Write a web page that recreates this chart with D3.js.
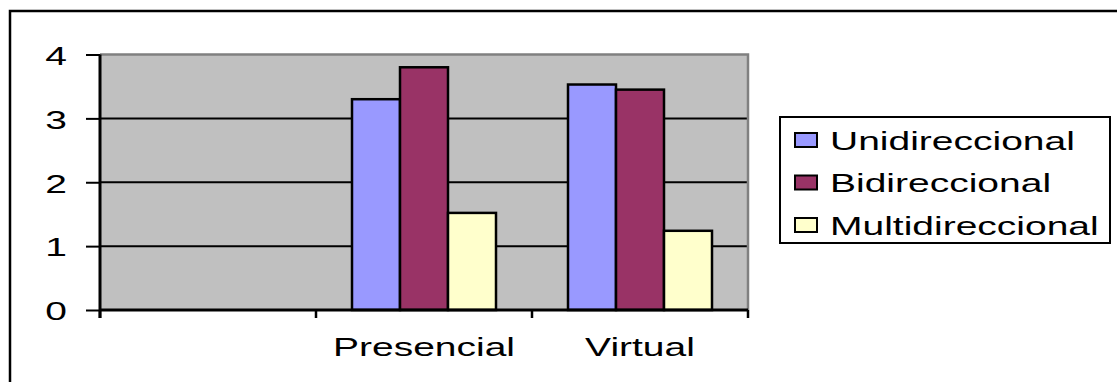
<!DOCTYPE html>
<meta charset="utf-8">
<style>
body { margin: 0; background: #fff; }
text { font-family: "Liberation Sans", Arial, sans-serif; fill: #000; }
</style>
<svg width="1117" height="382"></svg>
<script src="https://d3js.org/d3.v7.min.js"></script>
<script>

// data
var categories = ["", "Presencial", "Virtual"];
var seriesNames = ["Unidireccional", "Bidireccional", "Multidireccional"];
var unidireccional = [null, 3.30, 3.53];
var bidireccional = [null, 3.80, 3.45];
var multidireccional = [null, 1.52, 1.24];
var yTicks = [0, 1, 2, 3, 4];

var seriesValues = [unidireccional, bidireccional, multidireccional];
var colors = ["#9999FF", "#993366", "#FFFFCC"];

var svg = d3.select("svg");
var SX = 1.56; // text in the picture is stretched wide
var fontSize = 25;

var plot = {left: 100, right: 748, top: 54.5, bottom: 310};

// outer chart frame (runs off the right and bottom edge)
svg.append("rect")
    .attr("x", 10).attr("y", 11)
    .attr("width", 1200).attr("height", 500)
    .attr("fill", "none").attr("stroke", "#000").attr("stroke-width", 2.5);

var x = d3.scaleBand().domain(categories).range([plot.left, plot.right]);
var bw = x.bandwidth();
var gap = bw * 1.5 / 4.5;
var x1 = d3.scaleBand().domain(seriesNames).range([gap / 2, bw - gap / 2]);
var y = d3.scaleLinear().domain([0, 4]).range([plot.bottom, plot.top]);

// plot area
svg.append("rect")
    .attr("x", plot.left).attr("y", plot.top)
    .attr("width", plot.right - plot.left).attr("height", plot.bottom - plot.top)
    .attr("fill", "#C0C0C0");

// gridlines
svg.append("g").selectAll("line")
    .data(yTicks.filter(function(d) { return d > 0 && d < 4; }))
    .enter().append("line")
      .attr("x1", plot.left).attr("x2", plot.right)
      .attr("y1", function(d) { return y(d); })
      .attr("y2", function(d) { return y(d); })
      .attr("stroke", "#000").attr("stroke-width", 2);

// plot border top / right
svg.append("path")
    .attr("d", "M" + plot.left + "," + plot.top + "H" + plot.right + "V" + plot.bottom)
    .attr("fill", "none").attr("stroke", "#808080").attr("stroke-width", 2.5);

// bars
var bars = [];
seriesValues.forEach(function(vals, si) {
  vals.forEach(function(v, ci) {
    if (v == null) return;
    bars.push({cat: categories[ci], name: seriesNames[si], value: v, color: colors[si]});
  });
});

svg.append("g").selectAll("rect")
    .data(bars)
    .enter().append("rect")
      .attr("x", function(d) { return x(d.cat) + x1(d.name); })
      .attr("y", function(d) { return y(d.value); })
      .attr("width", x1.bandwidth())
      .attr("height", function(d) { return y(0) - y(d.value); })
      .attr("fill", function(d) { return d.color; })
      .attr("stroke", "#000").attr("stroke-width", 2.5);

// y axis
var yAxis = d3.axisLeft(y).tickValues(yTicks).tickSize(14).tickFormat(d3.format("d"));
var gy = svg.append("g")
    .attr("transform", "translate(" + plot.left + ",0)")
    .call(yAxis);
gy.select(".domain").remove();
gy.append("line")
    .attr("x1", 0).attr("x2", 0).attr("y1", plot.top).attr("y2", plot.bottom + 8)
    .attr("stroke", "#000").attr("stroke-width", 3);
gy.selectAll(".tick line").attr("stroke", "#000").attr("stroke-width", 2);
gy.selectAll(".tick text")
    .attr("x", null).attr("dy", null)
    .attr("text-anchor", "end")
    .attr("dominant-baseline", "central")
    .style("font-size", fontSize + "px")
    .attr("font-family", null)
    .attr("transform", "translate(-33,1) scale(" + SX + ",1)");

// x axis
var gx = svg.append("g")
    .attr("transform", "translate(0," + plot.bottom + ")");
gx.append("line")
    .attr("x1", plot.left).attr("x2", plot.right)
    .attr("stroke", "#000").attr("stroke-width", 3);
var bounds = categories.map(function(c) { return x(c); }).concat([plot.right]);
gx.selectAll(".xtick")
    .data(bounds)
    .enter().append("line")
      .attr("class", "xtick")
      .attr("x1", function(d) { return d; }).attr("x2", function(d) { return d; })
      .attr("y1", 0).attr("y2", 8)
      .attr("stroke", "#000").attr("stroke-width", 2.5);
gx.selectAll(".xlabel")
    .data(categories)
    .enter().append("text")
      .attr("class", "xlabel")
      .attr("text-anchor", "middle")
      .style("font-size", fontSize + "px")
      .attr("transform", function(d) {
        return "translate(" + (x(d) + bw / 2) + ",46) scale(" + SX + ",1)";
      })
      .text(function(d) { return d; });

// legend
var legend = {x: 780, y: 117, w: 330, h: 126, row: 42.5};
svg.append("rect")
    .attr("x", legend.x).attr("y", legend.y)
    .attr("width", legend.w).attr("height", legend.h)
    .attr("fill", "#fff").attr("stroke", "#000").attr("stroke-width", 2);

var items = svg.append("g").selectAll("g")
    .data(seriesNames)
    .enter().append("g")
      .attr("transform", function(d, i) {
        return "translate(" + legend.x + "," + (legend.y + 23 + i * legend.row) + ")";
      });
items.append("rect")
    .attr("x", 15).attr("y", -7)
    .attr("width", 22).attr("height", 14)
    .attr("fill", function(d, i) { return colors[i]; })
    .attr("stroke", "#000").attr("stroke-width", 2);
items.append("text")
    .attr("dominant-baseline", "central")
    .style("font-size", fontSize + "px")
    .attr("transform", "translate(50,1) scale(" + SX + ",1)")
    .text(function(d) { return d; });

</script>
